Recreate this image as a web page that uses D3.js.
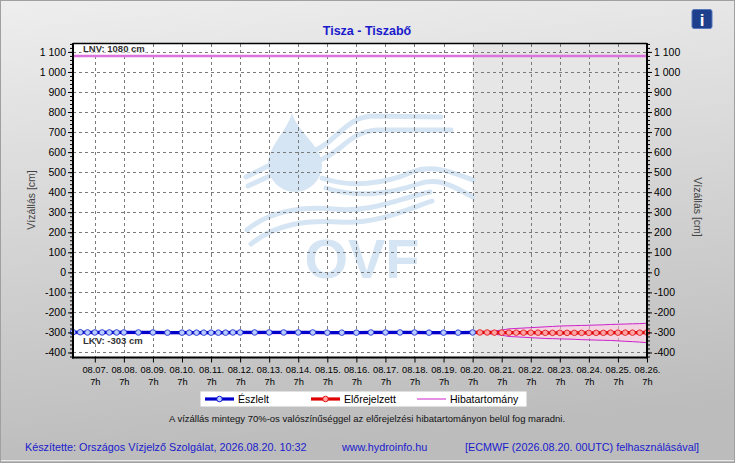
<!DOCTYPE html>
<html>
<head>
<meta charset="utf-8">
<script src="https://cdn.jsdelivr.net/npm/d3@7"></script>
<style>
  body { margin: 0; padding: 0; background: #fff; }
  svg text { font-family: "Liberation Sans", Arial, sans-serif; }
</style>
</head>
<body>
<div id="chart-area"></div>
<script>
// DATA
var obsTimes = ["2026-08-06 13:00", "2026-08-06 19:00", "2026-08-07 01:00", "2026-08-07 07:00",
    "2026-08-07 13:00", "2026-08-07 19:00", "2026-08-08 01:00", "2026-08-08 07:00",
    "2026-08-08 19:00", "2026-08-09 07:00", "2026-08-09 19:00", "2026-08-10 07:00",
    "2026-08-10 13:00", "2026-08-10 19:00", "2026-08-11 01:00", "2026-08-11 07:00",
    "2026-08-11 13:00", "2026-08-11 19:00", "2026-08-12 01:00", "2026-08-12 07:00",
    "2026-08-12 19:00", "2026-08-13 07:00", "2026-08-13 19:00", "2026-08-14 07:00",
    "2026-08-14 19:00", "2026-08-15 07:00", "2026-08-15 19:00", "2026-08-16 07:00",
    "2026-08-16 19:00", "2026-08-17 07:00", "2026-08-17 19:00", "2026-08-18 07:00",
    "2026-08-18 19:00", "2026-08-19 07:00", "2026-08-19 19:00", "2026-08-20 07:00"];
var obsValues = [-299, -299, -300, -300, -300, -300, -300, -300, -300, -300, -301, -301,
    -301, -301, -301, -301, -301, -301, -300, -300, -300, -300, -300, -300,
    -300, -301, -301, -301, -300, -300, -300, -300, -301, -301, -301, -300];

var fcTimes = ["2026-08-20 07:00", "2026-08-20 13:00", "2026-08-20 19:00", "2026-08-21 01:00",
    "2026-08-21 07:00", "2026-08-21 13:00", "2026-08-21 19:00", "2026-08-22 01:00",
    "2026-08-22 07:00", "2026-08-22 13:00", "2026-08-22 19:00", "2026-08-23 01:00",
    "2026-08-23 07:00", "2026-08-23 13:00", "2026-08-23 19:00", "2026-08-24 01:00",
    "2026-08-24 07:00", "2026-08-24 13:00", "2026-08-24 19:00", "2026-08-25 01:00",
    "2026-08-25 07:00", "2026-08-25 13:00", "2026-08-25 19:00", "2026-08-26 01:00",
    "2026-08-26 07:00"];
var fcValues = [-300, -300, -300, -301, -301, -301, -301, -301, -301, -301, -302, -302,
    -302, -302, -302, -302, -302, -302, -302, -301, -301, -301, -301, -301, -300];
var fcUpper = [-300, -298, -296, -292, -288, -282, -280, -278, -276, -274, -272, -270,
    -268, -267, -266, -265, -264, -263, -262, -260, -259, -258, -257, -256, -254];
var fcLower = [-300, -302, -305, -308, -314, -320, -322, -324, -326, -328, -330, -331,
    -332, -333, -334, -336, -337, -338, -339, -340, -342, -344, -346, -348, -351];

var dayTicks = ["2026-08-07 07:00", "2026-08-08 07:00", "2026-08-09 07:00", "2026-08-10 07:00",
    "2026-08-11 07:00", "2026-08-12 07:00", "2026-08-13 07:00", "2026-08-14 07:00",
    "2026-08-15 07:00", "2026-08-16 07:00", "2026-08-17 07:00", "2026-08-18 07:00",
    "2026-08-19 07:00", "2026-08-20 07:00", "2026-08-21 07:00", "2026-08-22 07:00",
    "2026-08-23 07:00", "2026-08-24 07:00", "2026-08-25 07:00", "2026-08-26 07:00"];
var yTicks = [-400, -300, -200, -100, 0, 100, 200, 300, 400, 500, 600, 700, 800, 900, 1000, 1100];

var lnv = 1080, lkv = -303;
var xStart = "2026-08-06 13:00", xEnd = "2026-08-26 07:00", fcStart = "2026-08-20 07:00";

var W = 735, H = 463;
var pL = 73, pR = 647, pT = 43.5, pB = 357.5;      // plot box (NOTE: "top" is a reserved window prop)
var FONT = '"Liberation Sans", Arial, sans-serif';

var parse = d3.timeParse("%Y-%m-%d %H:%M");
var obs = obsTimes.map(function (t, i) { return { t: parse(t), v: obsValues[i] }; });
var fc = fcTimes.map(function (t, i) {
    return { t: parse(t), v: fcValues[i], hi: fcUpper[i], lo: fcLower[i] };
});

var svg = d3.select("#chart-area").append("svg")
    .attr("width", W).attr("height", H);

// BACKGROUND
var defs = svg.append("defs");
var grad = defs.append("linearGradient").attr("id", "bg")
    .attr("x1", 0).attr("y1", 0).attr("x2", 0.15).attr("y2", 1);
grad.append("stop").attr("offset", "0%").attr("stop-color", "#eeeeee");
grad.append("stop").attr("offset", "100%").attr("stop-color", "#bcbcbc");
svg.append("rect").attr("x", 0.5).attr("y", 0.5).attr("width", W - 1).attr("height", H - 1)
    .attr("fill", "url(#bg)").attr("stroke", "#a0a0a0");
svg.append("line").attr("x1", 1).attr("x2", W - 1).attr("y1", 460.5).attr("y2", 460.5)
    .attr("stroke", "#e8e8e8");

// SCALES
var x = d3.scaleTime().domain([parse(xStart), parse(xEnd)]).range([pL, pR]);
var y = d3.scaleLinear().domain([-425, 1142]).range([pB, pT]);

// PLOT AREA
svg.append("rect").attr("x", pL).attr("y", pT)
    .attr("width", pR - pL).attr("height", pB - pT).attr("fill", "#ffffff");
svg.append("rect").attr("x", x(parse(fcStart))).attr("y", pT)
    .attr("width", pR - x(parse(fcStart))).attr("height", pB - pT).attr("fill", "#e6e6e6");

// WATERMARK (OVF logo)
var WM = "#d6e5f3";
var wm = svg.append("g").attr("fill", "none").attr("stroke", WM)
    .attr("stroke-width", 5).attr("stroke-linecap", "round");
wm.append("path").attr("stroke", "none").attr("fill", WM)
    .attr("d", "M292,113 C298,133 322,146 322,165 A27,27 0 1 1 268,165 C268,146 286,133 292,113 Z");
wm.append("path").attr("d", "M246,177 L272,164");
wm.append("path").attr("d", "M248,186 L272,175");
wm.append("path").attr("d", "M316,150 C338,140 345,118 372,116 L441,117");
wm.append("path").attr("d", "M320,160 C342,152 350,131 378,130 L451,130");
wm.append("path").attr("d", "M322,178 C350,188 385,184 412,172 C432,164 452,172 473,180");
wm.append("path").attr("d", "M326,188 C356,198 390,194 418,184 C440,176 455,188 473,197");
wm.append("path").attr("d", "M247,230 C268,212 300,206 334,209 C372,213 400,198 430,192");
wm.append("path").attr("d", "M251,244 C276,224 305,220 340,222 C378,224 405,210 432,201");
svg.append("text").attr("x", 362).attr("y", 278).attr("text-anchor", "middle")
    .attr("font-size", "56px").attr("font-weight", "bold").attr("fill", WM)
    .attr("font-family", FONT).text("OVF");

// GRID
var gridG = svg.append("g").attr("stroke", "#7a7a7a").attr("stroke-dasharray", "3,3")
    .attr("shape-rendering", "crispEdges");
gridG.selectAll("line.h").data(yTicks).enter().append("line")
    .attr("x1", pL).attr("x2", pR)
    .attr("y1", function (d) { return Math.round(y(d)) + 0.5; })
    .attr("y2", function (d) { return Math.round(y(d)) + 0.5; });
gridG.selectAll("line.v").data(dayTicks.slice(0, -1)).enter().append("line")
    .attr("y1", pT).attr("y2", pB)
    .attr("x1", function (d) { return Math.round(x(parse(d))) + 0.5; })
    .attr("x2", function (d) { return Math.round(x(parse(d))) + 0.5; });

// LIMIT LINES
svg.append("line").attr("x1", pL).attr("x2", pR).attr("y1", y(lnv)).attr("y2", y(lnv))
    .attr("stroke", "#da74da").attr("stroke-width", 2.5);
svg.append("line").attr("x1", pL).attr("x2", pR).attr("y1", y(lkv)).attr("y2", y(lkv))
    .attr("stroke", "#da74da").attr("stroke-width", 2.5);

var lnvText = svg.append("text").attr("x", 83).attr("y", 51.5)
    .attr("font-size", "9.5px").attr("font-weight", "bold").attr("fill", "#333")
    .text("LNV: " + lnv + " cm");
var bb = lnvText.node().getBBox();
svg.insert("rect", function () { return lnvText.node(); })
    .attr("x", bb.x - 2).attr("y", pT + 0.5).attr("width", bb.width + 4).attr("height", 8.5)
    .attr("fill", "#fff");
svg.append("text").attr("x", 83).attr("y", 344)
    .attr("font-size", "9.5px").attr("font-weight", "bold").attr("fill", "#333")
    .text("LKV: " + lkv + " cm");

// ERROR BAND
svg.append("path").datum(fc)
    .attr("fill", "#ffc4dc").attr("fill-opacity", 0.5)
    .attr("d", d3.area().x(function (d) { return x(d.t); })
        .y0(function (d) { return y(d.lo); }).y1(function (d) { return y(d.hi); }));
["hi", "lo"].forEach(function (k) {
    svg.append("path").datum(fc).attr("fill", "none").attr("stroke", "#cc22cc").attr("stroke-width", 1)
        .attr("d", d3.line().x(function (d) { return x(d.t); }).y(function (d) { return y(d[k]); }));
});

// SERIES
var line = d3.line().x(function (d) { return x(d.t); }).y(function (d) { return y(d.v); });
svg.append("path").datum(obs).attr("fill", "none").attr("stroke", "#0000cc")
    .attr("stroke-width", 3.2).attr("d", line);
svg.append("path").datum(fc).attr("fill", "none").attr("stroke", "#e00000")
    .attr("stroke-width", 3.2).attr("d", line);
svg.selectAll("circle.obs").data(obs).enter().append("circle")
    .attr("cx", function (d) { return x(d.t); }).attr("cy", function (d) { return y(d.v); })
    .attr("r", 2.8).attr("fill", "#b8ccff").attr("stroke", "#2233cc").attr("stroke-width", 0.9);
svg.selectAll("circle.fc").data(fc.slice(1)).enter().append("circle")
    .attr("cx", function (d) { return x(d.t); }).attr("cy", function (d) { return y(d.v); })
    .attr("r", 2.8).attr("fill", "#ffa4a4").attr("stroke", "#e02020").attr("stroke-width", 0.9);

// AXES
var loc = d3.formatLocale({ decimal: ",", thousands: " ", grouping: [3], currency: ["", ""], minus: "-" });
var fmt = loc.format(",d");
var minorY = d3.range(-420, 1141, 20);

function minorAxis(gen, xpos) {
    svg.append("g").attr("transform", "translate(" + xpos + ",0)")
        .call(gen(y).tickValues(minorY).tickSize(3).tickFormat(""))
        .call(function (s) { s.select(".domain").remove(); });
}
minorAxis(d3.axisLeft, pL);
minorAxis(d3.axisRight, pR);

var yAxisL = svg.append("g").attr("transform", "translate(" + pL + ",0)")
    .call(d3.axisLeft(y).tickValues(yTicks).tickSize(5).tickPadding(2).tickFormat(fmt));
var yAxisR = svg.append("g").attr("transform", "translate(" + pR + ",0)")
    .call(d3.axisRight(y).tickValues(yTicks).tickSize(5).tickPadding(2).tickFormat(fmt));
[yAxisL, yAxisR].forEach(function (g) {
    g.select(".domain").attr("stroke-width", 2).attr("d", "M0," + (pT - 0.5) + "V" + (pB + 1));
    g.selectAll("text").attr("font-size", "10.5px").attr("fill", "#000").attr("font-family", FONT);
});

// top border
svg.append("line").attr("x1", pL).attr("x2", pR).attr("y1", pT).attr("y2", pT)
    .attr("stroke", "#000").attr("stroke-width", 1.5);

var minorX = d3.timeHour.every(6).range(parse(xStart), d3.timeMinute.offset(parse(xEnd), 1))
    .filter(function (d) { return (d.getHours() - 1) % 6 === 0; });
svg.append("g").attr("transform", "translate(0," + pB + ")")
    .call(d3.axisBottom(x).tickValues(minorX).tickSize(3).tickFormat(""))
    .call(function (s) { s.select(".domain").remove(); });
var xAxisG = svg.append("g").attr("transform", "translate(0," + pB + ")")
    .call(d3.axisBottom(x).tickValues(dayTicks.map(parse)).tickSize(5)
        .tickFormat(d3.timeFormat("%m.%d.")));
xAxisG.select(".domain").attr("stroke-width", 2).attr("d", "M" + (pL - 1) + ",0H" + (pR + 1));
xAxisG.selectAll(".tick text").attr("font-size", "9.3px").attr("fill", "#000")
    .attr("font-family", FONT).attr("y", 9).attr("dy", "0.71em")
    .each(function () {
        d3.select(this.parentNode).append("text").attr("y", 21).attr("dy", "0.71em")
            .attr("fill", "#000").attr("font-size", "9.3px").attr("font-family", FONT)
            .attr("text-anchor", "middle").text("7h");
    });

// AXIS TITLES
svg.append("text").attr("transform", "translate(35,200) rotate(-90)")
    .attr("text-anchor", "middle").attr("font-size", "10.5px").attr("fill", "#444")
    .text("Vízállás [cm]");
svg.append("text").attr("transform", "translate(694,207) rotate(90)")
    .attr("text-anchor", "middle").attr("font-size", "10.5px").attr("fill", "#444")
    .text("Vízállás [cm]");

// TITLE
svg.append("text").attr("x", 367).attr("y", 35).attr("text-anchor", "middle")
    .attr("font-size", "12.5px").attr("font-weight", "bold").attr("fill", "#1a1acc")
    .text("Tisza - Tiszabő");

// INFO ICON
svg.append("rect").attr("x", 692).attr("y", 9.5).attr("width", 20).attr("height", 19)
    .attr("rx", 2).attr("fill", "#1d3f8c").attr("stroke", "#5577bb");
svg.append("text").attr("x", 702).attr("y", 26).attr("text-anchor", "middle")
    .attr("font-family", "'DejaVu Serif', 'Liberation Serif', serif")
    .attr("font-size", "17px").attr("font-weight", "bold").attr("fill", "#fff").text("i");

// LEGEND
var legend = svg.append("g");
legend.append("rect").attr("x", 200.5).attr("y", 391.5).attr("width", 326).attr("height", 15)
    .attr("fill", "#fff");
var legItems = [
    { label: "Észlelt", x: 205, color: "#0000cc", fill: "#b8ccff", w: 3.2, marker: true },
    { label: "Előrejelzett", x: 311, color: "#e00000", fill: "#ffa4a4", w: 3.2, marker: true },
    { label: "Hibatartomány", x: 417, color: "#cc22cc", w: 1, marker: false }
];
legItems.forEach(function (d) {
    legend.append("line").attr("x1", d.x).attr("x2", d.x + 29).attr("y1", 399).attr("y2", 399)
        .attr("stroke", d.color).attr("stroke-width", d.w);
    if (d.marker) {
        legend.append("circle").attr("cx", d.x + 14.5).attr("cy", 399).attr("r", 2.8)
            .attr("fill", d.fill).attr("stroke", d.color).attr("stroke-width", 0.9);
    }
    legend.append("text").attr("x", d.x + 33).attr("y", 403).attr("font-size", "10.5px")
        .attr("fill", "#000").text(d.label);
});

// NOTE
svg.append("text").attr("x", 367).attr("y", 422).attr("text-anchor", "middle")
    .attr("font-size", "9.5px").attr("fill", "#111")
    .text("A vízállás mintegy 70%-os valószínűséggel az előrejelzési hibatartományon belül fog maradni.");

// FOOTER
var footer = [
    { x: 25, text: "Készítette: Országos Vízjelző Szolgálat, 2026.08.20. 10:32" },
    { x: 342, text: "www.hydroinfo.hu" },
    { x: 465, text: "[ECMWF (2026.08.20. 00UTC) felhasználásával]" }
];
svg.selectAll("text.footer").data(footer).enter().append("text")
    .attr("x", function (d) { return d.x; }).attr("y", 451)
    .attr("font-size", "10.8px").attr("fill", "#1a1acc")
    .text(function (d) { return d.text; });
</script>
</body>
</html>
